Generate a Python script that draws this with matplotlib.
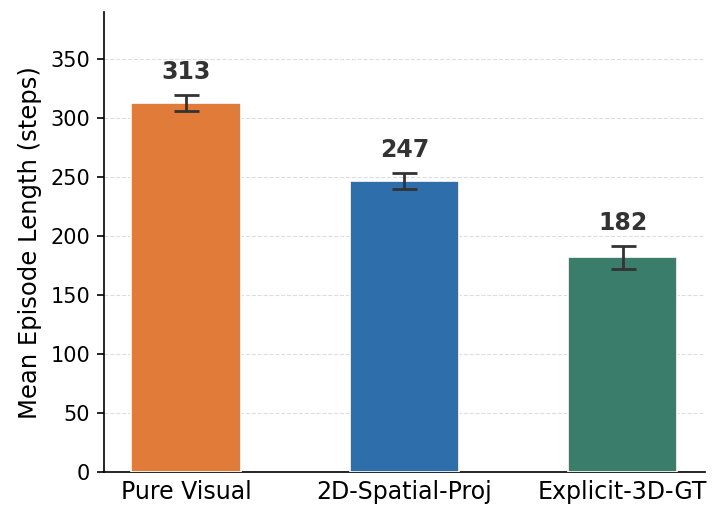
import numpy as np
import matplotlib.pyplot as plt

methods = ["Pure Visual", "2D-Spatial-Proj", "Explicit-3D-GT"]
mean_len = [313, 247, 182]
std_len = [7, 7, 10]
colors = ["#E07B39", "#2E6FAB", "#3B7D6B"]

plt.rcParams["font.family"] = "DejaVu Sans"
fig, ax = plt.subplots(figsize=(7.14, 5.07), dpi=100)
x = np.arange(len(methods))
ax.bar(x, mean_len, width=0.5, color=colors, edgecolor="white", linewidth=1.2,
       yerr=std_len, capsize=9, error_kw=dict(ecolor="#333333", elinewidth=2, capthick=2),
       zorder=3)

# value labels above the error bars
for xi, m, s in zip(x, mean_len, std_len):
    ax.text(xi, m + s + 9, f"{m}", ha="center", va="bottom",
            fontsize=17, fontweight="bold", color="#333333")

ax.set_xticks(x)
ax.set_xticklabels(methods, fontsize=17)
ax.tick_params(axis="x", length=0, pad=6)
ax.tick_params(axis="y", labelsize=15, length=5, width=1.2, pad=5)
ax.set_ylabel("Mean Episode Length (steps)", fontsize=17.5, labelpad=6)
ax.set_xlim(-0.375, 2.375)
ax.set_ylim(0, 390)
ax.set_yticks(np.arange(0, 351, 50))
ax.yaxis.grid(True, linestyle="--", color="#dddddd", linewidth=0.8, zorder=0)
ax.set_axisbelow(True)
for side in ["top", "right"]:
    ax.spines[side].set_visible(False)
ax.spines["left"].set_linewidth(1.2)
ax.spines["bottom"].set_linewidth(1.2)

plt.subplots_adjust(left=0.1457, right=0.987, bottom=0.069, top=0.976)
plt.savefig("out.png", dpi=100)
